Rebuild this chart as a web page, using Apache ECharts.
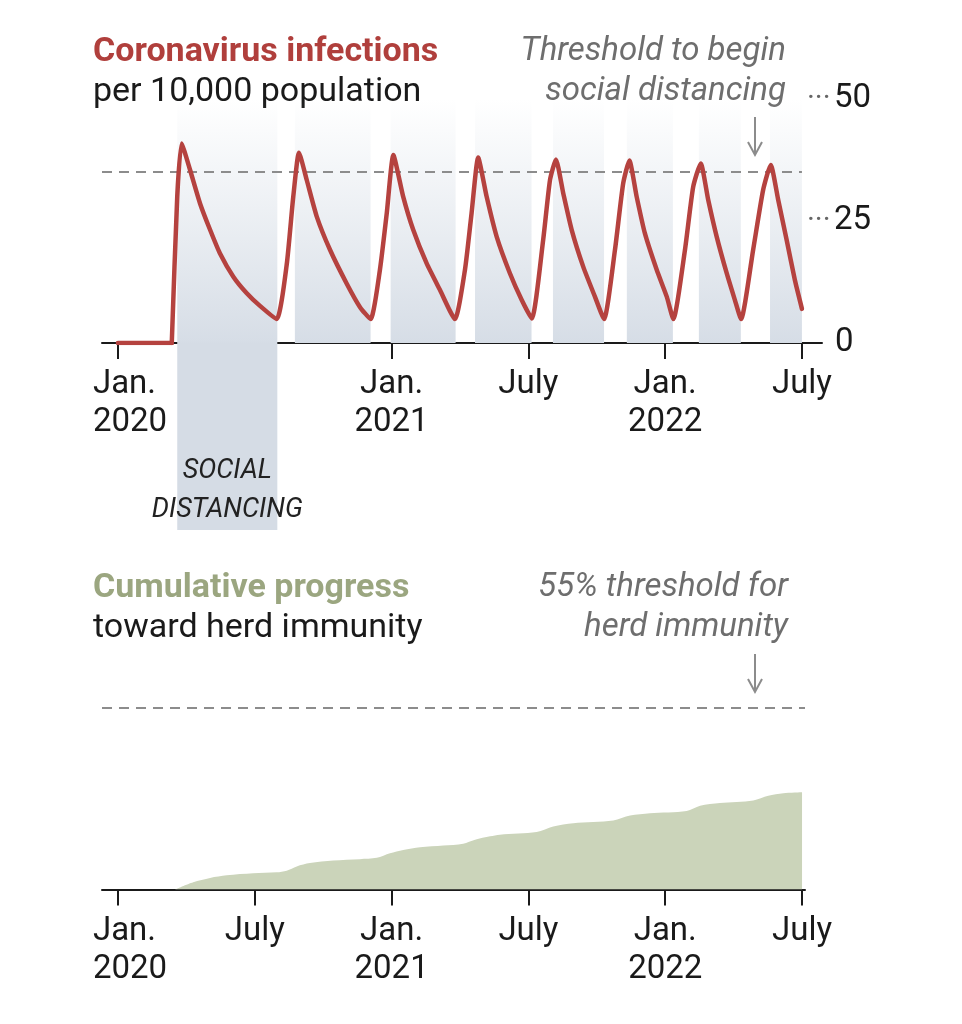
<!DOCTYPE html>
<html>
<head>
<meta charset="utf-8">
<script src="https://cdn.jsdelivr.net/npm/echarts@6/dist/echarts.min.js"></script>
<style>
html, body { margin: 0; padding: 0; background: #fff; }
#chart { width: 962px; height: 1024px; }
</style>
</head>
<body>
<div id="chart"></div>
<script>
// x values are months since Jan. 2020 (0 = Jan. 2020, 30 = July 2022)

// infections per 10,000 population
const infectionMonths = [0, 2.36, 2.60, 2.79, 3.16, 3.60, 4.04, 4.47, 5.06, 5.65, 6.23, 6.96,
    7.40, 7.69, 7.94, 8.28, 8.72, 9.30, 10.03, 10.61, 11.08,
    11.49, 11.79, 12.08, 12.51, 12.95, 13.54, 14.12, 14.78,
    15.22, 15.51, 15.80, 16.17, 16.61, 17.19, 17.71, 18.15,
    18.65, 18.95, 19.21, 19.53, 19.90, 20.41, 20.92, 21.32,
    21.80, 22.16, 22.43, 22.75, 23.11, 23.63, 24.07, 24.36,
    24.87, 25.23, 25.56, 25.89, 26.26, 26.70, 27.06, 27.33,
    27.86, 28.30, 28.63, 28.96, 29.33, 29.69, 30.0];
const infectionValues = [0, 0, 30, 40.9, 35.5, 28.6, 23.2, 18.4, 13.6, 10.2, 7.6, 4.9,
    16, 30, 39, 33.4, 25.9, 19.1, 12.2, 7.4, 4.9,
    15, 26.6, 38.5, 30, 23.2, 16.3, 10.9, 4.9,
    15, 26.6, 38, 30, 21.8, 14.3, 8.8, 5,
    21.1, 33.4, 37.6, 30.7, 23.2, 15.6, 9.5, 4.9,
    19.1, 32.7, 37.4, 30, 22.5, 15, 9.5, 4.9,
    19.1, 32, 36.8, 29.3, 21.8, 14.3, 8.8, 4.9,
    19.1, 31.4, 36.5, 29.3, 21.1, 12.9, 7.0];
const outbreakIndex = 1; // last flat point before the first wave

// social distancing periods
const distancingStart = [2.60, 7.76, 11.96, 15.66, 19.08, 22.32, 25.48, 28.60];
const distancingEnd = [6.99, 11.08, 14.81, 18.14, 21.32, 24.34, 27.32, 30.0];

// cumulative progress toward herd immunity (%)
const immunityMonths = [2.5, 3.30, 4.04, 4.77, 5.93, 6.96, 7.40, 7.84, 8.42, 9.44, 10.61, 11.35,
    11.93, 12.51, 13.25, 14.27, 15.14, 15.66, 16.32, 16.75, 18.36, 19.09, 19.97, 21.72,
    22.46, 23.33, 24.94, 25.53, 26.40, 27.86, 28.52, 29.18, 30.0];
const immunityValues = [0, 2.2, 3.5, 4.3, 4.9, 5.2, 5.7, 7.0, 8.0, 8.8, 9.2, 9.6,
    11.0, 12.0, 12.8, 13.3, 13.9, 15.1, 16.1, 16.6, 17.4, 19.1, 20.1, 20.9,
    22.4, 23.1, 23.8, 25.4, 26.2, 27.0, 28.4, 29.2, 29.5];

const tickMonths = [0, 6, 12, 18, 24, 30];
const tickLabels = ['Jan.\n2020', 'July', 'Jan.\n2021', 'July', 'Jan.\n2022', 'July'];
const topTickMonths = [0, 12, 18, 24, 30];
const infectionTicks = [0, 25, 50];
const distancingThreshold = 35;
const immunityThreshold = 55;

const FONT = 'Roboto, "Noto Sans", sans-serif';
const INK = '#1a1a1a';
const NOTE = '#6e6e6e';

function zip(xs, ys) {
    return xs.map(function(x, i) { return [x, ys[i]]; });
}

function monthLabel(v) {
    const i = tickMonths.indexOf(v);
    if (i < 0) return '';
    if (v === 0) {
        // first label sits flush with the left margin
        return tickLabels[i].split('\n').map(function(s) { return '{f|' + s + '}'; }).join('\n');
    }
    return tickLabels[i];
}

const xLabelStyle = {
    margin: 23,
    fontSize: 33,
    lineHeight: 38,
    color: INK,
    fontFamily: FONT,
    formatter: monthLabel,
    rich: {
        f: { width: 80, align: 'left', padding: [0, 0, 0, 30], fontSize: 33, lineHeight: 38, color: INK, fontFamily: FONT }
    }
};

const bandGradient = new echarts.graphic.LinearGradient(0, 0, 0, 1, [
    { offset: 0, color: 'rgba(216,223,231,0)' },
    { offset: 1, color: '#d6dde6' }
]);

const bandAreas = distancingStart.map(function(s, i) {
    return [{ coord: [s, 0] }, { coord: [distancingEnd[i], 50] }];
});

const dashStyle = { color: '#8c8c8c', width: 2, type: [10, 7] };
const hiddenAxis = { show: false, splitLine: { show: false } };

const option = {
    animation: false,
    backgroundColor: '#fff',
    grid: [
        { left: 102, top: 99, width: 720, height: 244, outerBoundsMode: 'none' },
        { left: 102, top: 708, width: 703, height: 181.5, outerBoundsMode: 'none' },
        // strip under the top axis that carries the first distancing period
        { left: 102, top: 343, width: 720, height: 187, outerBoundsMode: 'none' }
    ],
    xAxis: [
        {
            gridIndex: 0, type: 'value', min: -0.7, max: 30.88,
            axisLine: { show: true, lineStyle: { color: INK, width: 2 } },
            axisTick: { show: true, length: 16, customValues: topTickMonths, lineStyle: { color: INK, width: 2 } },
            axisLabel: Object.assign({ customValues: topTickMonths }, xLabelStyle),
            splitLine: { show: false }
        },
        {
            gridIndex: 1, type: 'value', min: -0.7, max: 30.13,
            axisLine: { show: true, lineStyle: { color: INK, width: 2 } },
            axisTick: { show: true, length: 16, customValues: tickMonths, lineStyle: { color: INK, width: 2 } },
            axisLabel: Object.assign({ customValues: tickMonths }, xLabelStyle),
            splitLine: { show: false }
        },
        Object.assign({ gridIndex: 2, type: 'value', min: -0.7, max: 30.88 }, hiddenAxis)
    ],
    yAxis: [
        {
            gridIndex: 0, type: 'value', min: 0, max: 50, position: 'right', offset: -15,
            axisLine: { show: false },
            axisTick: { show: false },
            splitLine: { show: false },
            axisLabel: {
                customValues: infectionTicks,
                margin: 0,
                formatter: function(v) {
                    return v === 0 ? '{s| }{n|0}' : '{d|···}{n|' + v + '}';
                },
                rich: {
                    d: { width: 27, fontSize: 30, color: '#666', fontFamily: FONT, verticalAlign: 'middle' },
                    s: { width: 28, fontSize: 24 },
                    n: { fontSize: 33, color: INK, fontFamily: FONT, verticalAlign: 'middle' }
                }
            }
        },
        Object.assign({ gridIndex: 1, type: 'value', min: 0, max: 55 }, hiddenAxis),
        Object.assign({ gridIndex: 2, type: 'value', min: 0, max: 1, inverse: true }, hiddenAxis)
    ],
    series: [
        {
            name: 'bands',
            type: 'line',
            xAxisIndex: 0, yAxisIndex: 0,
            data: [],
            markArea: { silent: true, z: 1, itemStyle: { color: bandGradient }, data: bandAreas },
            markLine: {
                silent: true, z: 1,
                symbol: ['none', 'none'],
                label: { show: false },
                lineStyle: dashStyle,
                data: [[{ coord: [-0.7, distancingThreshold] }, { coord: [30, distancingThreshold] }]]
            }
        },
        {
            name: 'first period',
            type: 'line',
            xAxisIndex: 2, yAxisIndex: 2,
            data: [],
            markArea: {
                silent: true,
                itemStyle: { color: '#d5dce5' },
                label: {
                    show: true,
                    position: 'insideBottom',
                    distance: 0,
                    fontFamily: FONT,
                    fontStyle: 'italic',
                    fontSize: 27,
                    lineHeight: 39,
                    color: '#222'
                },
                data: [[{ coord: [distancingStart[0], 0], name: 'SOCIAL\nDISTANCING' }, { coord: [distancingEnd[0], 1] }]]
            }
        },
        {
            name: 'before outbreak',
            type: 'line',
            xAxisIndex: 0, yAxisIndex: 0,
            z: 3,
            data: zip(infectionMonths, infectionValues).slice(0, outbreakIndex + 1),
            showSymbol: false,
            lineStyle: { color: '#b5423f', width: 4.5, cap: 'round' }
        },
        {
            name: 'Coronavirus infections',
            type: 'line',
            xAxisIndex: 0, yAxisIndex: 0,
            z: 3,
            data: zip(infectionMonths, infectionValues).slice(outbreakIndex),
            showSymbol: false,
            smooth: 0.18,
            lineStyle: { color: '#b5423f', width: 4.5, cap: 'round', join: 'round' }
        },
        {
            name: 'Cumulative progress',
            type: 'line',
            xAxisIndex: 1, yAxisIndex: 1,
            data: zip(immunityMonths, immunityValues),
            showSymbol: false,
            smooth: 0.3,
            lineStyle: { width: 0 },
            areaStyle: { color: '#cbd4ba', opacity: 1 },
            markLine: {
                silent: true,
                symbol: ['none', 'none'],
                label: { show: false },
                lineStyle: dashStyle,
                data: [[{ coord: [-0.7, immunityThreshold] }, { coord: [30.13, immunityThreshold] }]]
            }
        }
    ],
    graphic: [
        { type: 'text', x: 93, y: 52, style: { text: 'Coronavirus infections', fill: '#b03f3c', font: 'bold 34px ' + FONT, align: 'left', verticalAlign: 'middle' } },
        { type: 'text', x: 93, y: 92, style: { text: 'per 10,000 population', fill: INK, font: '34px ' + FONT, align: 'left', verticalAlign: 'middle' } },
        { type: 'text', x: 786, y: 52, style: { text: 'Threshold to begin', fill: NOTE, font: 'italic 33px ' + FONT, align: 'right', verticalAlign: 'middle' } },
        { type: 'text', x: 786, y: 92, style: { text: 'social distancing', fill: NOTE, font: 'italic 33px ' + FONT, align: 'right', verticalAlign: 'middle' } },
        { type: 'text', x: 93, y: 588, style: { text: 'Cumulative progress', fill: '#9ba680', font: 'bold 34px ' + FONT, align: 'left', verticalAlign: 'middle' } },
        { type: 'text', x: 93, y: 628, style: { text: 'toward herd immunity', fill: INK, font: '34px ' + FONT, align: 'left', verticalAlign: 'middle' } },
        { type: 'text', x: 788, y: 588, style: { text: '55% threshold for', fill: NOTE, font: 'italic 33px ' + FONT, align: 'right', verticalAlign: 'middle' } },
        { type: 'text', x: 788, y: 628, style: { text: 'herd immunity', fill: NOTE, font: 'italic 33px ' + FONT, align: 'right', verticalAlign: 'middle' } },
        // annotation arrows
        { type: 'line', shape: { x1: 755, y1: 117, x2: 755, y2: 155 }, style: { stroke: '#8c8c8c', lineWidth: 2 } },
        { type: 'polyline', shape: { points: [[748, 142], [755, 155], [762, 142]] }, style: { stroke: '#8c8c8c', lineWidth: 2, fill: null } },
        { type: 'line', shape: { x1: 755, y1: 654, x2: 755, y2: 692 }, style: { stroke: '#8c8c8c', lineWidth: 2 } },
        { type: 'polyline', shape: { points: [[748, 679], [755, 692], [762, 679]] }, style: { stroke: '#8c8c8c', lineWidth: 2, fill: null } }
    ]
};

const chart = echarts.init(document.getElementById('chart'));
chart.setOption(option);
</script>
</body>
</html>
